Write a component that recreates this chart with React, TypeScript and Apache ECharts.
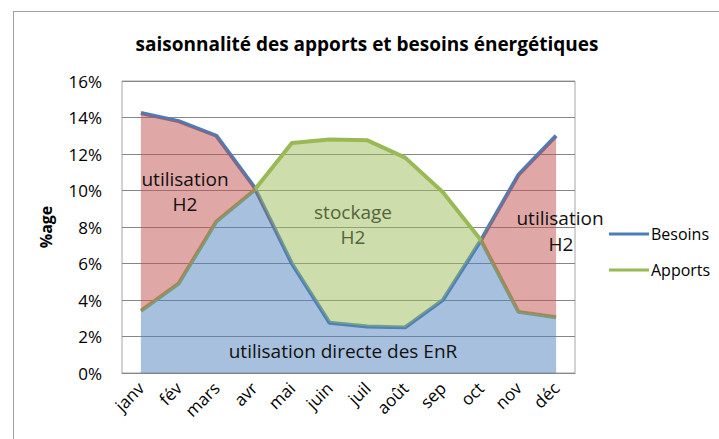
import React, { useEffect, useRef } from "react";
import * as echarts from "echarts";

const months = ["janv", "fév", "mars", "avr", "mai", "juin", "juil", "août", "sep", "oct", "nov", "déc"];
const besoins = [14.25, 13.8, 13.0, 10.2, 6.0, 2.75, 2.55, 2.5, 4.0, 7.25, 10.85, 13.0];
const apports = [3.4, 4.9, 8.3, 10.0, 12.6, 12.8, 12.75, 11.8, 9.9, 7.3, 3.35, 3.05];
const yTicks = { min: 0, max: 16, interval: 2 };

const FONT = "'Open Sans', 'Noto Sans', sans-serif";

export default function App() {
  const ref = useRef<HTMLDivElement>(null);
  useEffect(() => {
    if (!ref.current) return;
    const chart = echarts.init(ref.current, undefined, { renderer: "svg" });
    const base = months.map((_, i) => Math.min(besoins[i], apports[i]));
    const deficit = months.map((_, i) => Math.max(besoins[i] - apports[i], 0));
    const surplus = months.map((_, i) => Math.max(apports[i] - besoins[i], 0));
    const areaCommon = {
      type: "line",
      stack: "zones",
      symbol: "none",
      lineStyle: { width: 0, opacity: 0 },
      z: 3,
      silent: true,
    };
    chart.setOption({
      animation: false,
      backgroundColor: "#fff",
      textStyle: { fontFamily: FONT },
      title: {
        text: "saisonnalité des apports et besoins énergétiques",
        left: 362,
        textAlign: "center",
        top: 29,
        textStyle: { fontFamily: FONT, fontSize: 19, fontWeight: "bold", color: "#000" },
      },
      legend: {
        data: ["Besoins", "Apports"],
        orient: "vertical",
        left: 604,
        top: 219,
        itemWidth: 40,
        itemHeight: 3,
        itemGap: 16,
        icon: "rect",
        textStyle: { fontFamily: FONT, fontSize: 16, color: "#000", lineHeight: 20, padding: [0, 0, 0, -3] },
      },
      grid: {
        left: 122,
        right: 144,
        top: 81,
        bottom: 66,
        show: true,
        borderColor: "#a6a6a6",
        borderWidth: 1,
        containLabel: false,
      },
      xAxis: {
        type: "category",
        data: months,
        boundaryGap: true,
        axisLine: { show: true, lineStyle: { color: "#868686" } },
        axisTick: { show: false },
        axisLabel: { rotate: 45, margin: 12, fontFamily: FONT, fontSize: 17, color: "#000", interval: 0 },
      },
      yAxis: {
        type: "value",
        min: yTicks.min,
        max: yTicks.max,
        interval: yTicks.interval,
        name: "%age",
        nameLocation: "middle",
        nameGap: 68,
        nameTextStyle: { fontFamily: FONT, fontSize: 16, fontWeight: "bold", color: "#000" },
        axisLine: { show: false },
        axisTick: { show: false },
        axisLabel: { formatter: "{value}%", margin: 20, fontFamily: FONT, fontSize: 17, color: "#000" },
        splitLine: { lineStyle: { color: "#868686", width: 1 } },
      },
      series: [
        { ...areaCommon, name: "base", data: base, areaStyle: { color: "rgba(79,129,189,0.5)", opacity: 1 } },
        { ...areaCommon, name: "deficit", data: deficit, areaStyle: { color: "rgba(192,80,77,0.5)", opacity: 1 } },
        { ...areaCommon, name: "surplus", data: surplus, areaStyle: { color: "rgba(155,187,89,0.5)", opacity: 1 } },
        {
          type: "line",
          name: "Besoins",
          data: besoins,
          symbol: "none",
          z: 2,
          color: "#4a7ebb",
          lineStyle: { color: "#4a7ebb", width: 4 },
        },
        {
          type: "line",
          name: "Apports",
          data: apports,
          symbol: "none",
          z: 2,
          color: "#98b954",
          lineStyle: { color: "#98b954", width: 4 },
        },
      ],
      graphic: [
        { type: "line", shape: { x1: 13.5, y1: 11, x2: 13.5, y2: 439 }, style: { stroke: "#a0a0a0", lineWidth: 1 } },
        { type: "line", shape: { x1: 13, y1: 11.5, x2: 719, y2: 11.5 }, style: { stroke: "#a0a0a0", lineWidth: 1 } },
        {
          type: "text", x: 185, y: 179, z: 10,
          style: { text: "utilisation", fontFamily: FONT, fontSize: 19, fill: "#111", align: "center", verticalAlign: "middle" },
        },
        {
          type: "text", x: 185, y: 204, z: 10,
          style: { text: "H2", fontFamily: FONT, fontSize: 19, fill: "#111", align: "center", verticalAlign: "middle" },
        },
        {
          type: "text", x: 353, y: 212, z: 10,
          style: { text: "stockage", fontFamily: FONT, fontSize: 19, fill: "#55643a", align: "center", verticalAlign: "middle" },
        },
        {
          type: "text", x: 353, y: 237, z: 10,
          style: { text: "H2", fontFamily: FONT, fontSize: 19, fill: "#55643a", align: "center", verticalAlign: "middle" },
        },
        {
          type: "text", x: 560, y: 218, z: 10,
          style: { text: "utilisation", fontFamily: FONT, fontSize: 19, fill: "#111", align: "center", verticalAlign: "middle" },
        },
        {
          type: "text", x: 561, y: 244, z: 10,
          style: { text: "H2", fontFamily: FONT, fontSize: 19, fill: "#111", align: "center", verticalAlign: "middle" },
        },
        {
          type: "text", x: 343, y: 351, z: 10,
          style: { text: "utilisation directe des EnR", fontFamily: FONT, fontSize: 19, fill: "#111", align: "center", verticalAlign: "middle" },
        },
      ],
    });
    return () => chart.dispose();
  }, []);
  return <div ref={ref} style={{ width: 719, height: 439, position: "absolute", left: 0, top: 0 }} />;
}
